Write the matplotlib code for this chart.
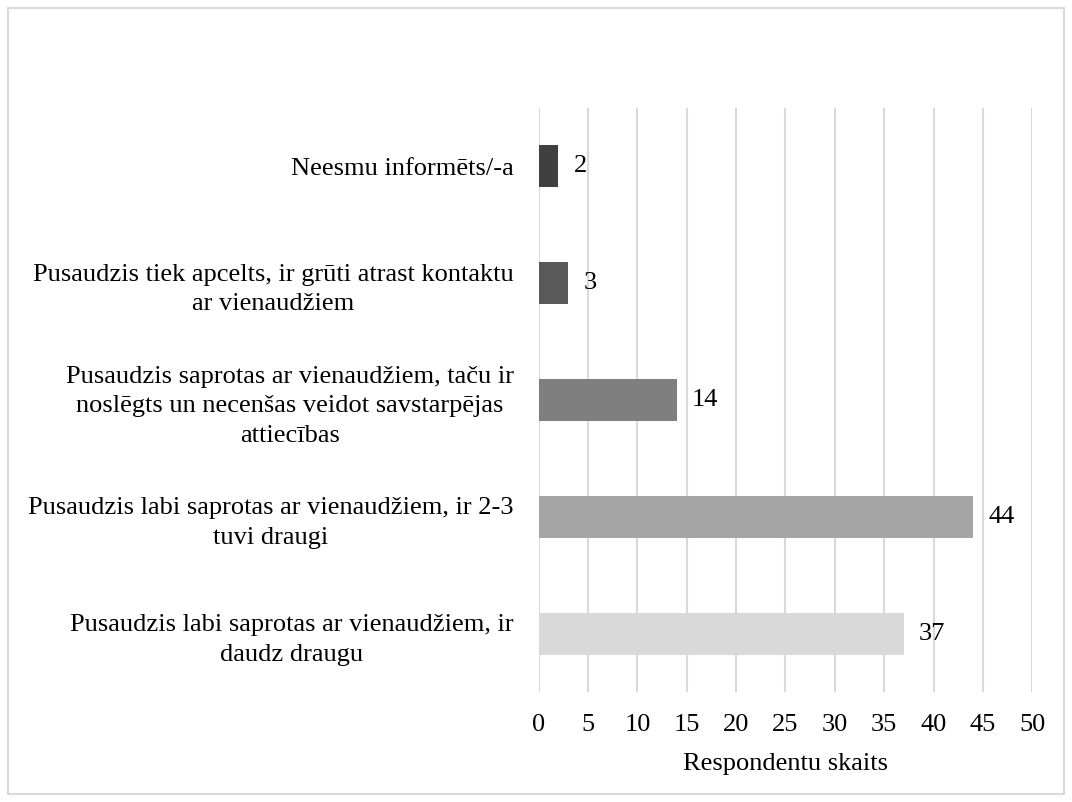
import matplotlib.pyplot as plt
from matplotlib.patches import Rectangle

# data (bottom to top, as drawn)
categories = [
    "Pusaudzis labi saprotas ar vienaudžiem, ir\ndaudz draugu",
    "Pusaudzis labi saprotas ar vienaudžiem, ir 2-3\ntuvi draugi",
    "Pusaudzis saprotas ar vienaudžiem, taču ir\nnoslēgts un necenšas veidot savstarpējas\nattiecības",
    "Pusaudzis tiek apcelts, ir grūti atrast kontaktu\nar vienaudžiem",
    "Neesmu informēts/-a",
]
counts = [37, 44, 14, 3, 2]
bar_colors = ["#d9d9d9", "#a5a5a5", "#7f7f7f", "#595959", "#404040"]
x_ticks = [0, 5, 10, 15, 20, 25, 30, 35, 40, 45, 50]

plt.rcParams["font.family"] = ["Liberation Serif", "DejaVu Serif"]
plt.rcParams["font.size"] = 19

fig = plt.figure(figsize=(10.72, 8.02), dpi=100)
ax = fig.add_axes([0.5025, 0.1372, 0.4604, 0.7281])

ypos = range(len(categories))
bars = ax.barh(ypos, counts, height=0.36, color=bar_colors, zorder=3)
for b, v in zip(bars, counts):
    ax.annotate(str(v), (b.get_width(), b.get_y() + b.get_height() / 2),
                xytext=(11, 0), textcoords="offset points",
                ha="left", va="center", fontsize=19)

ax.set_xlim(0, 50)
ax.set_ylim(-0.5, len(categories) - 0.5)
ax.set_xticks(x_ticks)
ax.set_yticks(list(ypos))
ax.set_yticklabels(categories, multialignment="center", linespacing=1.45)
ax.tick_params(axis="both", length=0, colors="black")
ax.tick_params(axis="x", pad=16)
ax.tick_params(axis="y", pad=18)
ax.xaxis.grid(True, color="#d9d9d9", linewidth=1.5, zorder=0)
for s in ax.spines.values():
    s.set_visible(False)
ax.set_xlabel("Respondentu skaits", labelpad=12)

# light frame around the whole chart
fig.patches.append(Rectangle((8 / 1072, 8 / 802), 1 - 16 / 1072, 1 - 16 / 802,
                             transform=fig.transFigure, fill=False,
                             edgecolor="#d9d9d9", linewidth=1.5))

fig.savefig("out.png", dpi=100)
